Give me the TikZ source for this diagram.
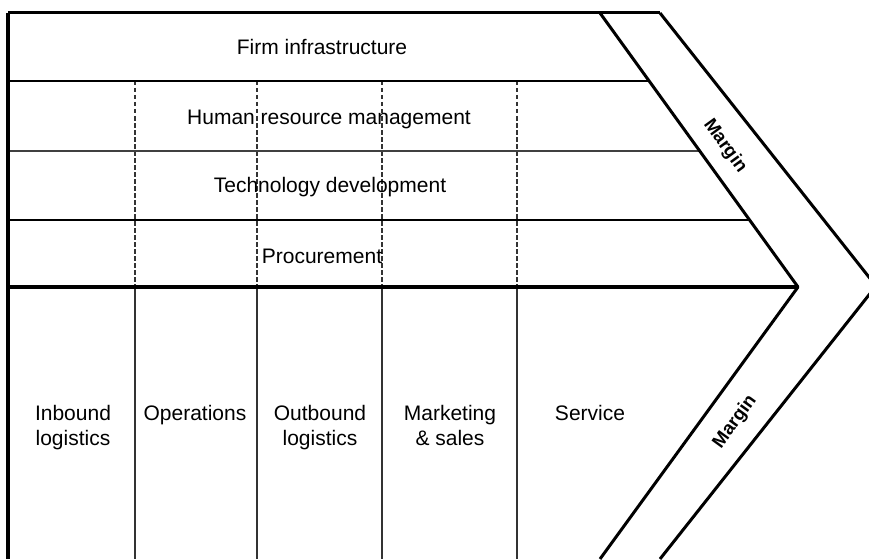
\documentclass[tikz,border=0pt]{standalone}
\usepackage{fontspec}
\setmainfont{Liberation Sans}
\usepackage{tikz}

\begin{document}
\begin{tikzpicture}[x=1pt, y=-1pt, line join=round]
\tikzset{bigtext/.style = {font=\fontsize{21}{25}\selectfont, inner sep=0pt}}
\tikzset{activity/.style = {bigtext, align=center, anchor=north}}
\tikzset{margintext/.style = {font=\fontsize{18.5}{20}\selectfont\bfseries, inner sep=0pt}}
\tikzset{divider/.style = {draw=black!80, line width=1.3pt}}
\tikzset{band/.style = {line width=3pt}}

\clip (0,0) rectangle (869,559);

% corners
\coordinate (tl) at (8,13);
\coordinate (ti) at (600,13);
\coordinate (to) at (660,13);
\coordinate (tip) at (798,287);
\coordinate (otip) at (876,286);
\coordinate (bl) at (8,559);
\coordinate (bi) at (600,559);
\coordinate (bo) at (660,559);
% rows
\coordinate (r1l) at (8,81);   \coordinate (r1r) at (649,81);
\coordinate (r2l) at (8,151);  \coordinate (r2r) at (700,151);
\coordinate (r3l) at (8,220);  \coordinate (r3r) at (749,220);
\coordinate (r4l) at (8,287);
% columns
\coordinate (c1t) at (135,81); \coordinate (c1m) at (135,287); \coordinate (c1b) at (135,559);
\coordinate (c2t) at (257,81); \coordinate (c2m) at (257,287); \coordinate (c2b) at (257,559);
\coordinate (c3t) at (382,81); \coordinate (c3m) at (382,287); \coordinate (c3b) at (382,559);
\coordinate (c4t) at (517,81); \coordinate (c4m) at (517,287); \coordinate (c4b) at (517,559);

%columns
\draw[divider, dash pattern=on 4.5pt off 2.5pt] (c1t) -- (c1m);
\draw[divider, dash pattern=on 4.5pt off 2.5pt] (c2t) -- (c2m);
\draw[divider, dash pattern=on 4.5pt off 2.5pt] (c3t) -- (c3m);
\draw[divider, dash pattern=on 4.5pt off 2.5pt] (c4t) -- (c4m);
\draw[divider] (c1m) -- (c1b);
\draw[divider] (c2m) -- (c2b);
\draw[divider] (c3m) -- (c3b);
\draw[divider] (c4m) -- (c4b);

%rows
\draw[line width=3pt] (tl) -- (to);
\draw[line width=2.6pt] (r1l) -- (r1r);
\draw[line width=1.8pt, draw=black!75] (r2l) -- (r2r);
\draw[line width=2.6pt] (r3l) -- (r3r);
\draw[line width=4pt] (r4l) -- (tip);
\draw[line width=4pt] (tl) -- (bl);

% margin band
\draw[band] (ti) -- (tip) -- (bi);
\draw[band] (to) -- (otip) -- (bo);

% support activities
\node[bigtext] (firm) at (322,47) {Firm infrastructure};
\node[bigtext] (hrm) at (329,119) {Human resource management};
\node[bigtext] (tech) at (330,187) {Technology development};
\node[bigtext] (proc) at (322,256) {Procurement};

% primary activities
\node[activity] (inb) at (73,405) {Inbound\\logistics};
\node[activity] (ops) at (195,405) {Operations};
\node[activity] (outb) at (320,405) {Outbound\\logistics};
\node[activity] (mkt) at (450,405) {Marketing\\\& sales};
\node[activity] (serv) at (590,405) {Service};

% margin
\node[margintext, rotate=-54] (mup) at (725,146) {Margin};
\node[margintext, rotate=54] (mdown) at (735,422) {Margin};

\end{tikzpicture}
\end{document}
